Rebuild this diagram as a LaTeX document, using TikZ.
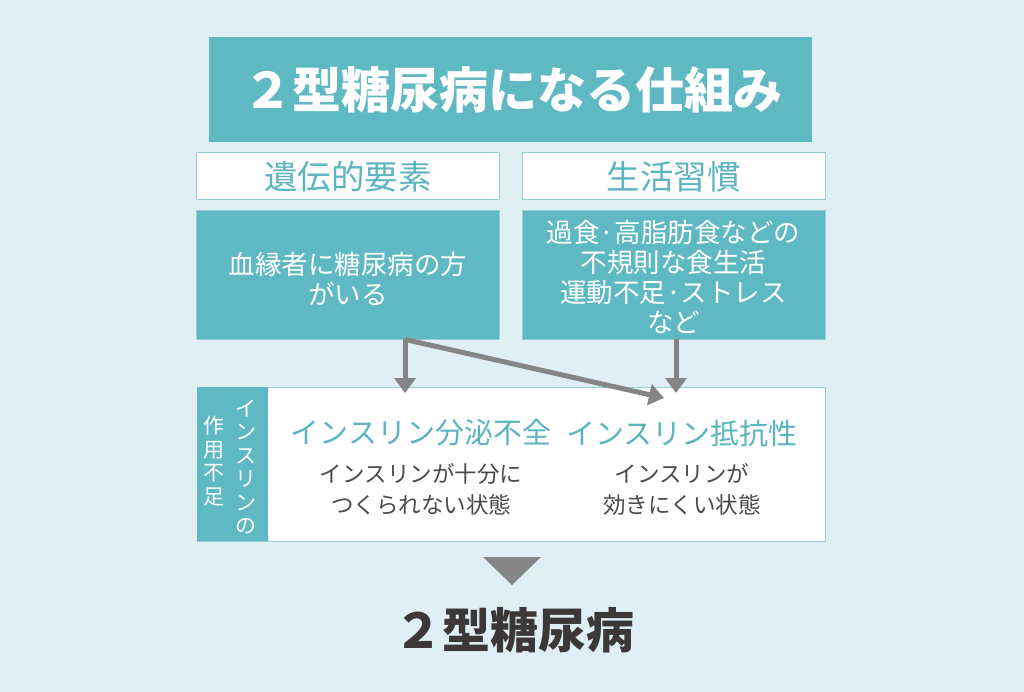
\documentclass[tikz,border=0pt]{standalone}
\usepackage{fontspec}
\setmainfont{Noto Sans CJK JP}
\usetikzlibrary{arrows.meta}
\definecolor{bgc}{HTML}{E0EFF4}
\definecolor{tealc}{HTML}{5FB9C2}
\definecolor{tealtxt}{HTML}{5BB5BE}
\definecolor{tealline}{HTML}{93D0D6}
\definecolor{arrowc}{HTML}{858585}
\definecolor{darktxt}{HTML}{3C3838}
\definecolor{subtxt}{HTML}{4A4A4A}
\tikzset{
  titlebox/.style={fill=tealc, draw=none, inner sep=0pt, text=white,
    font=\fontsize{49}{52}\selectfont\bfseries},
  hdrbox/.style={fill=white, draw=tealline, line width=1pt, inner sep=0pt,
    text=tealtxt, font=\fontsize{33.5}{36}\selectfont,
    minimum width=303pt, minimum height=47pt},
  contentbox/.style={fill=tealc, draw=tealline, line width=0.8pt, inner sep=0pt,
    minimum width=303pt, minimum height=129pt},
  contenttxt/.style={text=white, inner sep=0pt, align=center, font=\fontsize{26.5}{30}\selectfont},
  headline/.style={text=tealtxt, inner sep=0pt, font=\fontsize{29}{32}\selectfont},
  subline/.style={text=subtxt, inner sep=0pt, align=center, font=\fontsize{22.5}{31}\selectfont},
  vline/.style={text=white, inner sep=0pt, align=center, font=\fontsize{21}{23.5}\selectfont},
  arr/.style={draw=arrowc, line width=5pt, -{Triangle[length=15pt,width=21pt]}},
}
\begin{document}
\begin{tikzpicture}[x=1pt,y=-1pt]
\fill[bgc] (0,0) rectangle (1024,692);
\useasboundingbox (0,0) rectangle (1024,692);

\node[titlebox, minimum width=603pt, minimum height=105pt] (title) at (510.5,89.5) {};
\node[text=white, inner sep=0pt, font=\fontsize{49}{52}\selectfont\bfseries] (titletxt) at (513,90) {２型糖尿病になる仕組み};

\node[hdrbox] (hdrL) at (348,176.5) {遺伝的要素};
\node[hdrbox] (hdrR) at (673.5,176.5) {生活習慣};

\node[contentbox] (boxL) at (348,274.5) {};
\node[contentbox] (boxR) at (673.5,274.5) {};
\node[contenttxt] (txtL) at (348,279) {血縁者に糖尿病の方\\がいる};
\node[contenttxt] (txtR) at (673.5,277) {過食·高脂肪食などの\\不規則な食生活\\運動不足·ストレス\\など};

\node[fill=white, draw=tealline, line width=1pt, inner sep=0pt, minimum width=628pt, minimum height=154pt] (bottom) at (511,464) {};
\node[fill=tealc, draw=none, inner sep=0pt, minimum width=71pt, minimum height=154pt] (strip) at (232.5,464) {};
\node[vline] (v1) at (246,467) {イ\\ン\\ス\\リ\\ン\\の};
\node[vline] (v2) at (214,461) {作\\用\\不\\足};

\node[headline] (h1) at (421,433) {インスリン分泌不全};
\node[headline] (h2) at (682,433) {インスリン抵抗性};
\node[subline] (s1) at (421,489.5) {インスリンが十分に\\つくられない状態};
\node[subline] (s2) at (682,489.5) {インスリンが\\効きにくい状態};

\coordinate (aL) at ([xshift=57pt]boxL.south);
\coordinate (aR) at ([xshift=2.5pt]boxR.south);
\coordinate (tL) at (405,393);
\coordinate (tR) at (676,393);
\coordinate (tD) at (664,398);
\draw[arr] (aL) -- (tL);
\draw[arr] (aL) -- (tD);
\draw[arr] (aR) -- (tR);

\fill[arrowc] (483,557) -- (541,557) -- (512,585) -- cycle;
\node[text=darktxt, inner sep=0pt, font=\fontsize{48}{50}\selectfont\bfseries] (result) at (514,630) {２型糖尿病};
\end{tikzpicture}
\end{document}
